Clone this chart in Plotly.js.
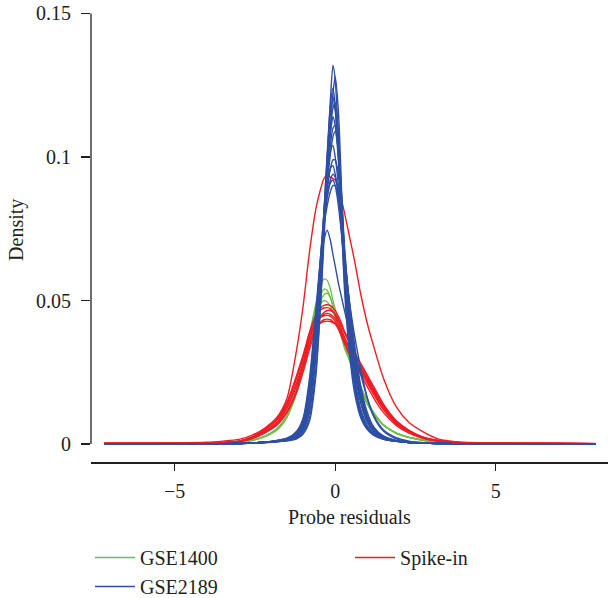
<!DOCTYPE html>
<html>
<head>
<meta charset="utf-8">
<script src="https://cdn.plot.ly/plotly-3.0.1.min.js"></script>
<style>html,body{margin:0;padding:0;background:#fff;}#chart{width:608px;height:598px;}</style>
</head>
<body>
<div id="chart"></div>
<script>
// Common residual grid (x) for GSE1400 and Spike-in curves
var residualGrid = [-7.2, -5, -4, -3.5, -3, -2.6, -2.2, -1.8, -1.5, -1.2, -1.0, -0.8, -0.6, -0.45, -0.35, -0.25, -0.15, -0.07, 0, 0.1, 0.2, 0.3, 0.45, 0.6, 0.8, 1.0, 1.2, 1.5, 1.9, 2.3, 2.7, 3.2, 4, 5, 6.5, 8.1];
// Grid for GSE2189 curves
var blueGrid = [-7.2, -4, -3, -2.2, -1.8, -1.5, -1.2, -1.0, -0.8, -0.6, -0.45, -0.35, -0.25, -0.15, -0.07, 0, 0.1, 0.2, 0.3, 0.45, 0.6, 0.8, 1.0, 1.2, 1.5, 1.9, 2.3, 2.7, 3.2, 4, 8.1];

var gse1400Curves = [
  [0.0001,0.0002,0.0003,0.0004,0.0007,0.0013,0.0026,0.0052,0.0095,0.018,0.027,0.038,0.049,0.055,0.0575,0.057,0.054,0.050,0.047,0.043,0.039,0.035,0.030,0.025,0.019,0.014,0.0105,0.0065,0.0037,0.0022,0.0014,0.0008,0.0003,0.0002,0.0001,0],
  [0.0001,0.0002,0.0003,0.0004,0.0007,0.0013,0.0027,0.0054,0.010,0.019,0.028,0.038,0.048,0.052,0.054,0.0535,0.051,0.048,0.045,0.041,0.038,0.034,0.029,0.025,0.019,0.014,0.0105,0.0066,0.0038,0.0023,0.0014,0.0008,0.0003,0.0002,0.0001,0],
  [0.0001,0.0002,0.0003,0.0004,0.0007,0.0012,0.0025,0.005,0.0093,0.018,0.026,0.036,0.046,0.050,0.052,0.0525,0.051,0.048,0.045,0.041,0.037,0.033,0.029,0.024,0.019,0.014,0.0105,0.0066,0.0038,0.0023,0.0014,0.0008,0.0003,0.0002,0.0001,0],
  [0.0001,0.0002,0.0003,0.0004,0.0007,0.0013,0.0027,0.0055,0.010,0.019,0.028,0.037,0.045,0.049,0.050,0.0495,0.048,0.046,0.044,0.041,0.037,0.034,0.030,0.025,0.020,0.015,0.011,0.0068,0.0039,0.0024,0.0015,0.0008,0.0003,0.0002,0.0001,0]
];

var spikeInCurves = [
  [0.0002,0.0002,0.0003,0.0005,0.001,0.0024,0.005,0.0088,0.0145,0.024,0.031,0.039,0.045,0.0475,0.0483,0.0485,0.0482,0.0475,0.0465,0.0445,0.042,0.039,0.036,0.032,0.028,0.024,0.020,0.014,0.0082,0.0048,0.0026,0.0012,0.0004,0.0002,0.0002,0.0001],
  [0.0002,0.0002,0.0003,0.0005,0.001,0.0023,0.0048,0.0085,0.014,0.023,0.030,0.038,0.0445,0.0468,0.0474,0.0475,0.0471,0.0462,0.045,0.0425,0.0398,0.037,0.0335,0.030,0.026,0.022,0.018,0.0125,0.0073,0.0043,0.0023,0.0011,0.0004,0.0002,0.0002,0.0001],
  [0.0002,0.0002,0.0003,0.0004,0.0008,0.0019,0.004,0.007,0.0115,0.019,0.0265,0.0345,0.041,0.0445,0.0458,0.0465,0.0465,0.046,0.0452,0.0435,0.041,0.0385,0.0352,0.0315,0.0275,0.0235,0.0193,0.0135,0.0079,0.0047,0.0025,0.0012,0.0004,0.0002,0.0002,0.0001],
  [0.0002,0.0002,0.0003,0.0004,0.0009,0.0021,0.0044,0.0078,0.013,0.0215,0.0285,0.0365,0.042,0.0445,0.0452,0.0455,0.0452,0.0445,0.0437,0.0418,0.039,0.036,0.033,0.0298,0.026,0.0222,0.018,0.0127,0.0074,0.0044,0.0024,0.0011,0.0004,0.0002,0.0002,0.0001],
  [0.0002,0.0002,0.0003,0.0005,0.001,0.0024,0.005,0.0088,0.0145,0.0235,0.0305,0.0375,0.0425,0.0442,0.0447,0.0448,0.0445,0.0437,0.0427,0.0405,0.0378,0.035,0.032,0.0287,0.025,0.0212,0.0172,0.012,0.007,0.0041,0.0022,0.001,0.0004,0.0002,0.0002,0.0001],
  [0.0002,0.0002,0.0003,0.0004,0.0008,0.0018,0.0038,0.0067,0.011,0.018,0.025,0.033,0.040,0.0425,0.0433,0.0435,0.0433,0.0427,0.042,0.040,0.0375,0.0348,0.031,0.028,0.024,0.020,0.016,0.011,0.0065,0.0038,0.0021,0.001,0.0004,0.0002,0.0002,0.0001],
  [0.0002,0.0002,0.0003,0.0004,0.0009,0.002,0.0042,0.0075,0.0125,0.0205,0.0275,0.035,0.0405,0.0422,0.0427,0.0428,0.0427,0.0423,0.0418,0.0403,0.0382,0.036,0.033,0.030,0.0265,0.0228,0.0188,0.0132,0.0077,0.0046,0.0025,0.0012,0.0004,0.0002,0.0002,0.0001],
  [0.0003,0.0004,0.0006,0.001,0.0016,0.003,0.0055,0.0095,0.016,0.033,0.048,0.067,0.082,0.089,0.0925,0.0937,0.093,0.0925,0.092,0.089,0.085,0.080,0.072,0.064,0.052,0.042,0.034,0.023,0.013,0.0075,0.0045,0.0018,0.0006,0.0004,0.0003,0.0002]
];

var gse2189Curves = [
  [0,0.0001,0.0002,0.0005,0.0008,0.0011,0.0018,0.0035,0.008,0.024,0.050,0.074,0.098,0.120,0.132,0.127,0.106,0.076,0.052,0.031,0.018,0.009,0.005,0.003,0.0016,0.0009,0.0005,0.0003,0.0002,0.0001,0],
  [0,0.0001,0.0002,0.0005,0.0008,0.0012,0.002,0.004,0.009,0.026,0.050,0.071,0.092,0.110,0.122,0.128,0.116,0.088,0.061,0.036,0.021,0.010,0.0055,0.0033,0.0017,0.0009,0.0005,0.0003,0.0002,0.0001,0],
  [0,0.0001,0.0002,0.0005,0.0009,0.0013,0.0022,0.0045,0.011,0.031,0.058,0.080,0.101,0.118,0.124,0.118,0.100,0.076,0.055,0.034,0.020,0.010,0.0056,0.0034,0.0018,0.0009,0.0005,0.0003,0.0002,0.0001,0],
  [0,0.0001,0.0002,0.0005,0.0009,0.0013,0.0024,0.0048,0.012,0.033,0.060,0.081,0.100,0.115,0.121,0.116,0.101,0.079,0.058,0.037,0.022,0.011,0.006,0.0036,0.0019,0.001,0.0005,0.0003,0.0002,0.0001,0],
  [0,0.0001,0.0002,0.0005,0.0009,0.0014,0.0025,0.005,0.012,0.032,0.057,0.077,0.095,0.109,0.117,0.119,0.108,0.086,0.063,0.040,0.024,0.012,0.0065,0.0038,0.002,0.001,0.0005,0.0003,0.0002,0.0001,0],
  [0,0.0001,0.0002,0.0005,0.001,0.0015,0.0028,0.0058,0.014,0.036,0.060,0.079,0.096,0.108,0.114,0.111,0.099,0.080,0.061,0.041,0.026,0.014,0.0075,0.0044,0.0022,0.0011,0.0005,0.0003,0.0002,0.0001,0],
  [0,0.0001,0.0002,0.0006,0.001,0.0016,0.003,0.006,0.015,0.037,0.060,0.077,0.092,0.104,0.110,0.111,0.103,0.085,0.065,0.044,0.028,0.015,0.008,0.0046,0.0023,0.0011,0.0005,0.0003,0.0002,0.0001,0],
  [0,0.0001,0.0002,0.0006,0.001,0.0016,0.003,0.006,0.015,0.037,0.059,0.076,0.090,0.101,0.107,0.109,0.102,0.086,0.067,0.046,0.030,0.016,0.0085,0.0048,0.0024,0.0011,0.0005,0.0003,0.0002,0.0001,0],
  [0,0.0001,0.0002,0.0006,0.0011,0.0017,0.0035,0.007,0.018,0.042,0.065,0.081,0.094,0.102,0.104,0.100,0.090,0.075,0.059,0.042,0.028,0.015,0.008,0.0047,0.0024,0.0011,0.0005,0.0003,0.0002,0.0001,0],
  [0,0.0001,0.0002,0.0006,0.0011,0.0018,0.0036,0.0075,0.019,0.042,0.063,0.077,0.088,0.096,0.099,0.099,0.094,0.081,0.066,0.048,0.032,0.018,0.0095,0.0052,0.0026,0.0012,0.0005,0.0003,0.0002,0.0001,0],
  [0,0.0001,0.0002,0.0006,0.0011,0.0019,0.004,0.008,0.020,0.044,0.066,0.080,0.090,0.096,0.097,0.094,0.086,0.073,0.060,0.044,0.030,0.017,0.009,0.005,0.0025,0.0012,0.0005,0.0003,0.0002,0.0001,0],
  [0,0.0001,0.0002,0.0006,0.0012,0.002,0.004,0.0085,0.021,0.045,0.065,0.077,0.086,0.092,0.094,0.093,0.088,0.077,0.064,0.048,0.033,0.019,0.010,0.0055,0.0027,0.0012,0.0005,0.0003,0.0002,0.0001,0],
  [0,0.0001,0.0002,0.0006,0.0012,0.002,0.0045,0.009,0.023,0.047,0.066,0.076,0.083,0.088,0.090,0.090,0.086,0.076,0.064,0.049,0.035,0.020,0.011,0.006,0.0028,0.0012,0.0005,0.0003,0.0002,0.0001,0],
  [0,0.0001,0.0002,0.0006,0.0011,0.0019,0.0037,0.0075,0.019,0.041,0.063,0.077,0.086,0.091,0.092,0.090,0.083,0.073,0.062,0.049,0.038,0.026,0.016,0.0095,0.0045,0.0018,0.0008,0.0004,0.0002,0.0001,0],
  [0,0.0001,0.0002,0.0006,0.0012,0.002,0.004,0.008,0.020,0.044,0.062,0.071,0.0745,0.071,0.066,0.062,0.056,0.051,0.046,0.039,0.033,0.024,0.016,0.010,0.005,0.0022,0.001,0.0005,0.0003,0.0001,0]
];

var seriesNames = ["GSE1400", "GSE2189", "Spike-in"];
var seriesColors = ["#6cc04a", "#2e4fa3", "#ee1d25"];
var xTickVals = [-5, 0, 5];
var xTickText = ["\u22125", "0", "5"];
var yTickVals = [0, 0.05, 0.1, 0.15];
var yTickText = ["0", "0.05", "0.1", "0.15"];

var FONT = "Liberation Serif, Times New Roman, serif";
var TXT = "#231f20";
var FS = 20;
var traces = [];
function addGroup(curves, grid, idx, legendId, width) {
  curves.forEach(function (ys, k) {
    traces.push({
      type: "scatter", mode: "lines", x: grid, y: ys,
      name: seriesNames[idx], legendgroup: seriesNames[idx],
      showlegend: k === 0, legend: legendId,
      line: {color: seriesColors[idx], width: width, shape: "spline", smoothing: 0.7},
      hoverinfo: "skip"
    });
  });
}
addGroup(gse1400Curves, residualGrid, 0, "legend", 1.3);
addGroup(spikeInCurves, residualGrid, 2, "legend2", 1.4);
addGroup(gse2189Curves, blueGrid, 1, "legend", 1.4);

var layout = {
  width: 608, height: 598,
  margin: {l: 91, r: 0, t: 13, b: 136, autoexpand: false},
  paper_bgcolor: "#fff", plot_bgcolor: "#fff",
  font: {family: FONT, size: FS, color: TXT},
  showlegend: true,
  xaxis: {
    range: [-7.607, 8.498], tickvals: xTickVals, ticktext: xTickText,
    ticks: "outside", ticklen: 7, tickwidth: 1.3, tickcolor: TXT,
    showline: true, linecolor: TXT, linewidth: 1.6,
    showgrid: false, zeroline: false, ticklabelstandoff: 3,
    tickfont: {family: FONT, size: FS, color: TXT},
    title: {text: "Probe residuals", standoff: 9, font: {family: FONT, size: FS, color: TXT}}
  },
  yaxis: {
    range: [-0.00627, 0.15017], tickvals: yTickVals, ticktext: yTickText,
    ticks: "outside", ticklen: 9, tickwidth: 1.3, tickcolor: TXT,
    showline: false, showgrid: false, zeroline: false, ticklabelstandoff: 6,
    tickfont: {family: FONT, size: FS, color: TXT}
  },
  annotations: [{text: "Density", xref: "paper", yref: "paper", x: -0.143, y: 0.517,
                 xanchor: "center", yanchor: "middle", textangle: -90, showarrow: false,
                 font: {family: FONT, size: FS, color: TXT}}],
  shapes: [{type: "line", xref: "paper", yref: "y", x0: 0, x1: 0, y0: 0, y1: 0.15,
            line: {color: TXT, width: 1.3}}],
  legend: {xref: "container", yref: "container", x: 0.148, xanchor: "left", y: 0.1003, yanchor: "top",
           orientation: "v", itemwidth: 40, bgcolor: "rgba(0,0,0,0)",
           font: {family: FONT, size: FS, color: TXT}, tracegroupgap: 0},
  legend2: {xref: "container", yref: "container", x: 0.5757, xanchor: "left", y: 0.1003, yanchor: "top",
            orientation: "v", itemwidth: 40, bgcolor: "rgba(0,0,0,0)",
            font: {family: FONT, size: FS, color: TXT}}
};
Plotly.newPlot("chart", traces, layout, {displayModeBar: false, staticPlot: true});
</script>
</body>
</html>
